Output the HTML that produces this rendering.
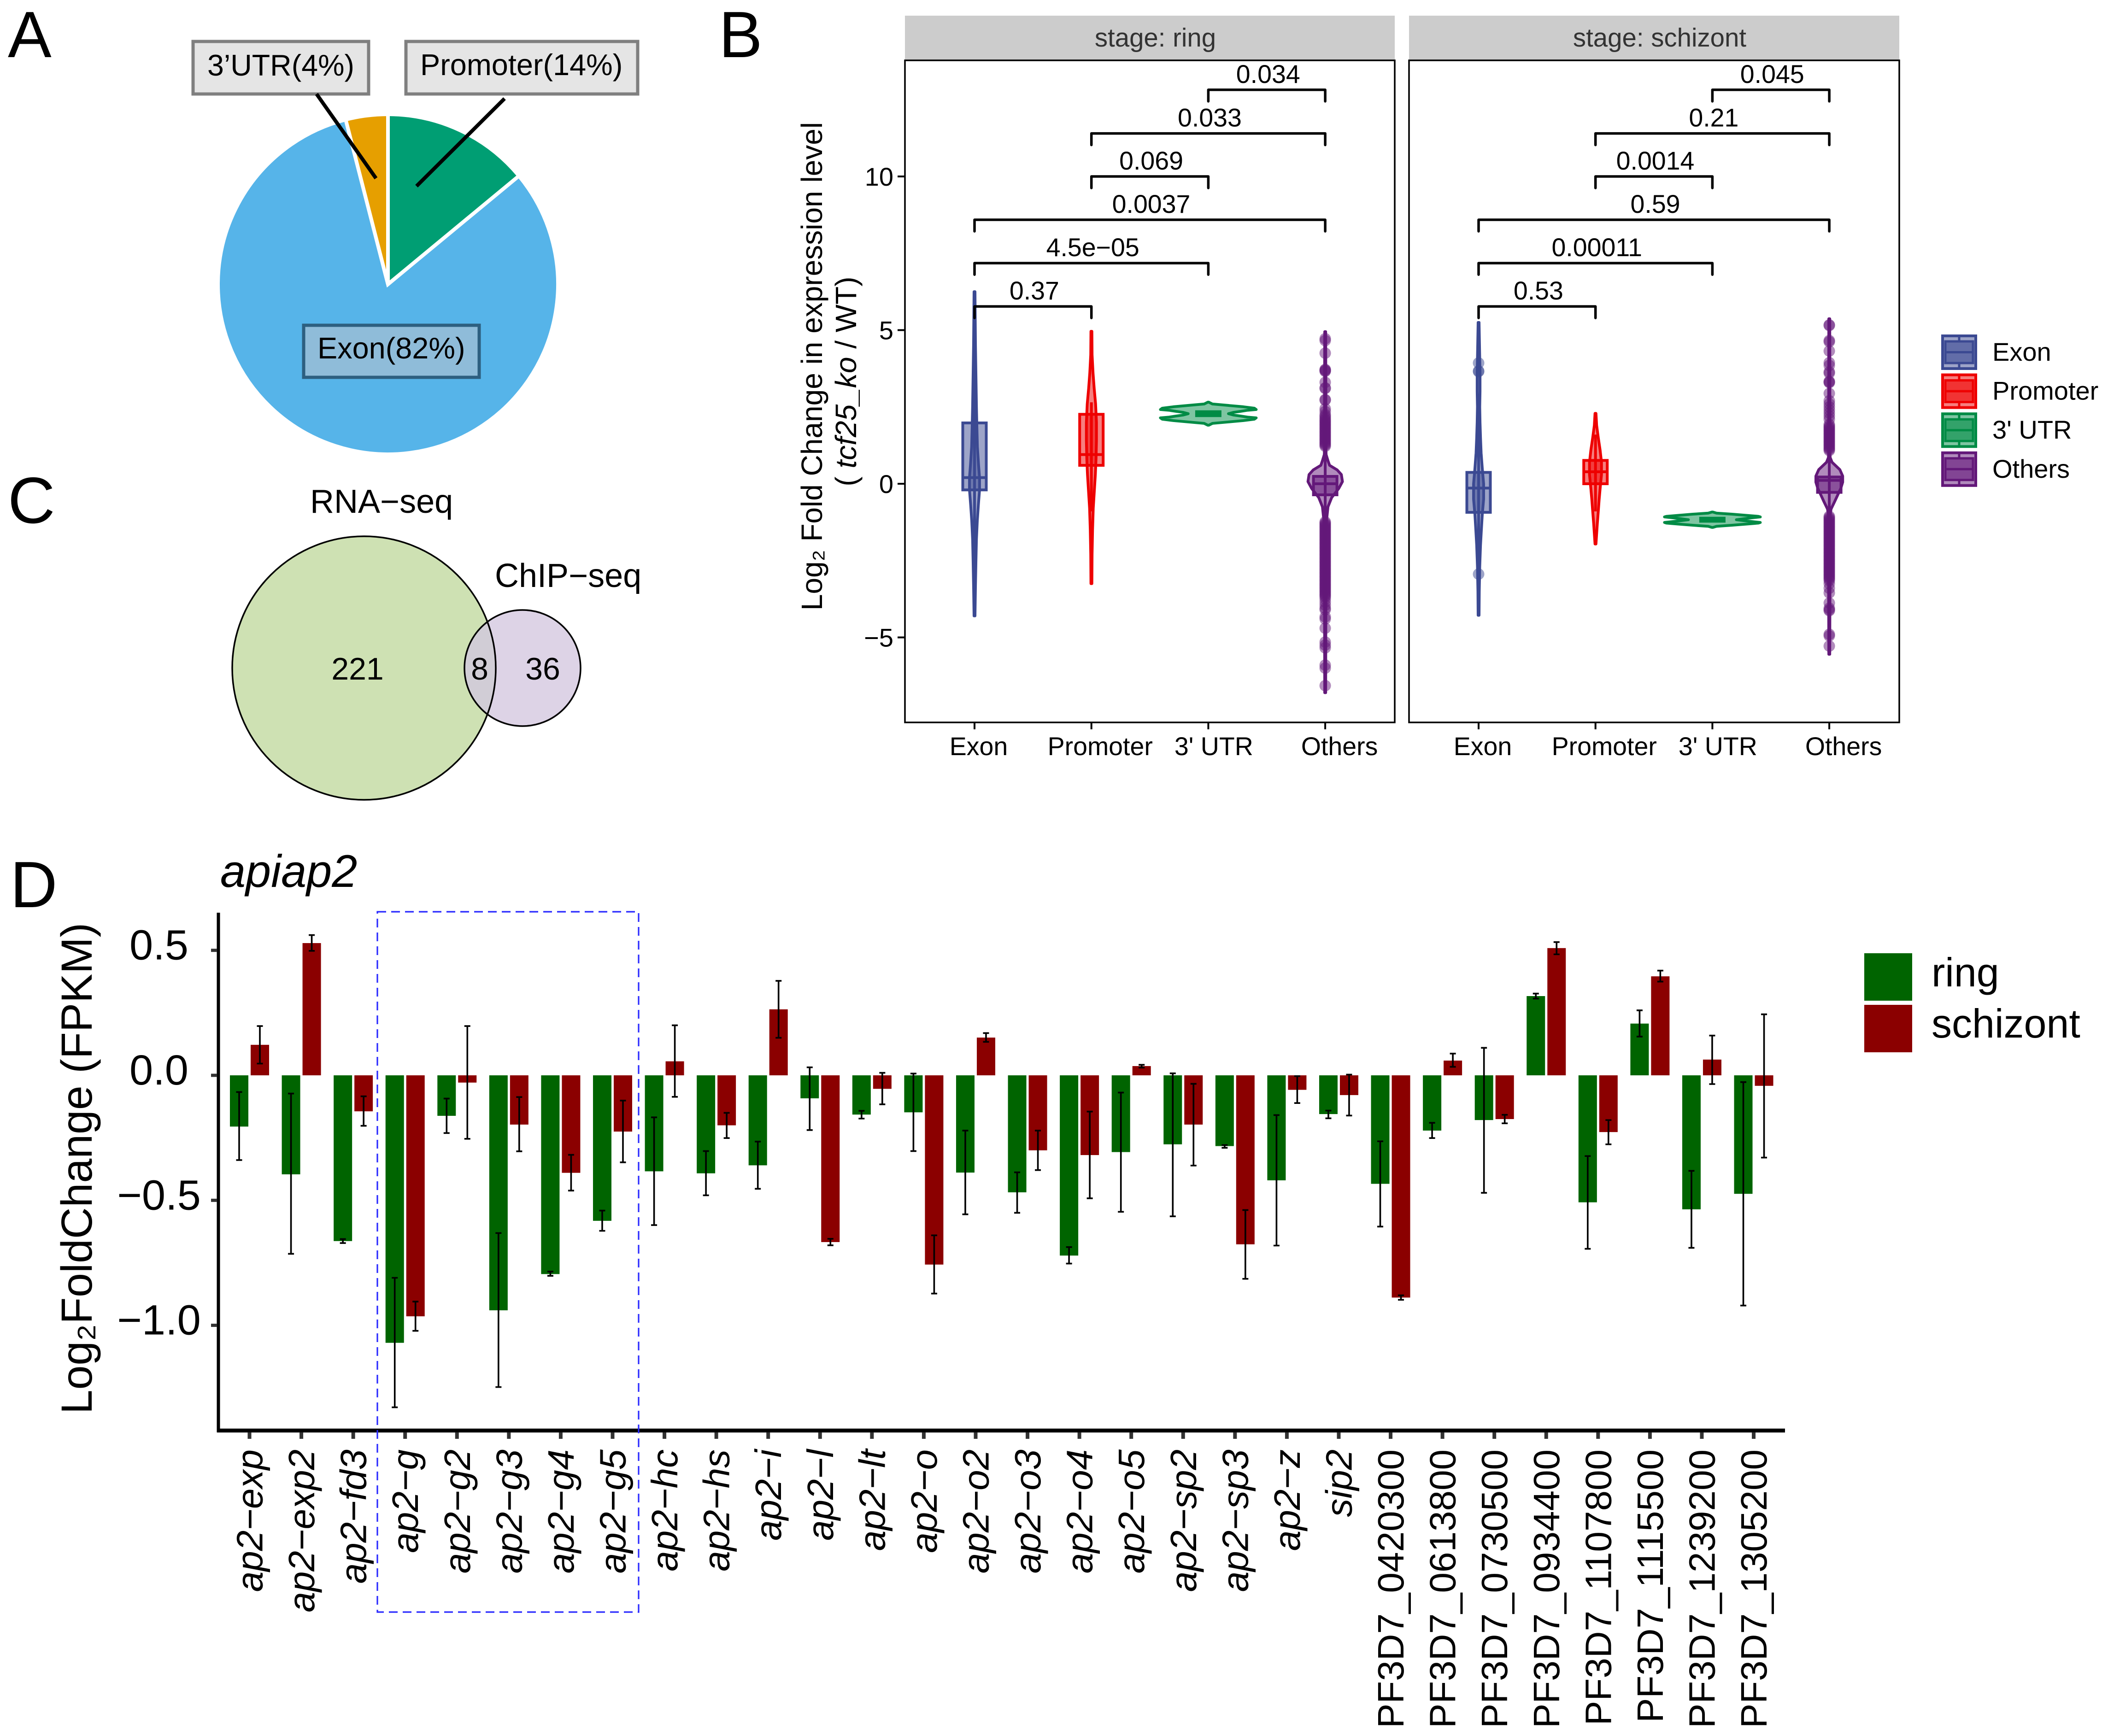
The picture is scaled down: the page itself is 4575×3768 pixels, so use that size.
<!DOCTYPE html>
<html lang="en">
<head>
<meta charset="utf-8">
<title>TCF25 knockout expression figure</title>
<style>
html,body{margin:0;padding:0;background:#fff;}
svg{display:block;font-family:"Liberation Sans","DejaVu Sans",sans-serif;}
</style>
</head>
<body>
<svg id="fig" xmlns="http://www.w3.org/2000/svg" width="4575" height="3768" viewBox="0 0 4575 3768">
  <rect x="0" y="0" width="4575" height="3768" fill="#fff"/>
  <text x="17" y="124" font-size="142">A</text>
  <text x="1560" y="124" font-size="142">B</text>
  <text x="17" y="1135" font-size="142">C</text>
  <text x="22" y="1969" font-size="142">D</text>

  <g id="pie"></g>
  <g>
    <rect x="419" y="90" width="381" height="114" fill="#e5e5e5" stroke="#7f7f7f" stroke-width="7"/>
    <text x="450" y="164" font-size="64.5">3’UTR(4%)</text>
    <rect x="881" y="90" width="503" height="114" fill="#e5e5e5" stroke="#7f7f7f" stroke-width="7"/>
    <text x="912" y="163" font-size="64.8">Promoter(14%)</text>
    <rect x="659" y="706" width="381" height="113" fill="#8fbcd9" stroke="#2d5f80" stroke-width="7"/>
    <text x="689" y="778" font-size="64.8">Exon(82%)</text>
    <line x1="687" y1="204" x2="816" y2="387" stroke="#000" stroke-width="8"/>
    <line x1="1095" y1="214" x2="904" y2="404" stroke="#000" stroke-width="8"/>
  </g>

  <g>
    <defs><clipPath id="rnaClip"><circle cx="790" cy="1450" r="286"/></clipPath></defs>
    <circle cx="790" cy="1450" r="286" fill="#cee1b3"/>
    <circle cx="1134" cy="1450" r="126" fill="#ddd3e6"/>
    <circle cx="1134" cy="1450" r="126" fill="#d1cdd6" clip-path="url(#rnaClip)"/>
    <circle cx="790" cy="1450" r="286" fill="none" stroke="#000" stroke-width="3.5"/>
    <circle cx="1134" cy="1450" r="126" fill="none" stroke="#000" stroke-width="3.5"/>
    <text x="673" y="1113" font-size="72">RNA−seq</text>
    <text x="1074" y="1274" font-size="72">ChIP−seq</text>
    <text x="776" y="1475" font-size="68" text-anchor="middle">221</text>
    <text x="1041" y="1475" font-size="68" text-anchor="middle">8</text>
    <text x="1178" y="1475" font-size="68" text-anchor="middle">36</text>
  </g>

  <g id="panelB">
    <text transform="translate(1784,795) rotate(-90)" text-anchor="middle" font-size="64">Log₂ Fold Change in expression level</text>
    <text transform="translate(1858,828) rotate(-90)" text-anchor="middle" font-size="64">( <tspan font-style="italic">tcf25_ko</tspan> / WT)</text>
  </g>

  <g id="panelD">
    <text x="478" y="1925" font-size="99" font-style="italic">apiap2</text>
    <text transform="translate(199,2536) rotate(-90)" text-anchor="middle" font-size="95">Log₂FoldChange (FPKM)</text>
  </g>
</svg>
<script>
/* ---------- Panel A data ---------- */
const pieLabels = ["Promoter", "Exon", "3' UTR"];
const pieShares = [14, 82, 4];
const pieColors = ["#009E73", "#56B4E9", "#E69F00"];

/* ---------- Panel B data ---------- */
const violinCategories = ["Exon", "Promoter", "3' UTR", "Others"];
const violinColors = ["#3B4992", "#EE0000", "#008B45", "#631879"];
const violinTicks = [10, 5, 0, -5];
const violinTickLabels = ["10", "5", "0", "−5"];
const stageNames = ["stage: ring", "stage: schizont"];

const ringExonGrid = [6.25,5.5,4.5,3.5,2.5,1.8,1.2,0.6,0.2,-0.2,-0.7,-1.2,-1.8,-2.5,-3.3,-4.3];
const ringExonDensity = [.01,.014,.02,.03,.04,.05,.06,.085,.105,.105,.08,.058,.04,.03,.02,.01];
const ringPromoterGrid = [4.96,4.2,3.6,3.1,2.6,2.0,1.4,0.8,0.3,-0.2,-0.8,-1.5,-2.3,-3.25];
const ringPromoterDensity = [.01,.014,.034,.058,.087,.105,.105,.096,.082,.062,.038,.024,.014,.01];
const ringUtrGrid = [2.655,2.595,2.55,2.505,2.46,2.415,2.392,2.355,2.325,2.28,2.235,2.205,2.168,2.145,2.10,2.055,2.01,1.965,1.905];
const ringUtrDensity = [.01,.087,.41,.73,.96,1,.82,.67,.53,.42,.53,.67,.82,1,.96,.73,.41,.087,.01];
const ringOthersGrid = [4.95,3,1.2,0.95,0.75,0.6,0.45,0.3,0.07,-0.15,-0.45,-0.75,-1.05,-1.3,-2,-4,-6.8];
const ringOthersDensity = [.01,.014,.014,.019,.058,.091,.25,.337,.36,.284,.135,.058,.038,.019,.014,.014,.01];

const schizontExonGrid = [5.25,4.4,3.6,3,2.5,2,1.5,1,0.5,0,-0.5,-1,-1.5,-2,-2.7,-3.5,-4.28];
const schizontExonDensity = [.01,.02,.03,.03,.024,.03,.04,.053,.077,.105,.105,.077,.058,.04,.024,.014,.01];
const schizontPromoterGrid = [2.29,1.9,1.5,1.1,0.7,0.3,-0.1,-0.5,-0.9,-1.3,-1.96];
const schizontPromoterDensity = [.01,.024,.058,.096,.125,.125,.1,.077,.058,.038,.01];
const schizontUtrGrid = [-0.92,-0.955,-0.99,-1.03,-1.06,-1.08,-1.11,-1.14,-1.17,-1.20,-1.23,-1.26,-1.28,-1.31,-1.35,-1.385,-1.42];
const schizontUtrDensity = [.01,.087,.41,.73,.96,1,.82,.65,.5,.65,.82,1,.96,.73,.41,.087,.01];
const schizontOthersGrid = [5.37,1.0,0.85,0.7,0.46,0.25,0.05,-0.15,-0.31,-0.57,-0.82,-1.0,-5.55];
const schizontOthersDensity = [.01,.014,.019,.058,.22,.28,.28,.24,.192,.115,.038,.019,.01];

/* box stats: lower whisker, q1, median, q3, upper whisker */
const ringExonBox = [-3.3,-0.2,0.2,1.98,5.2];
const ringPromoterBox = [-0.9,0.6,0.95,2.26,2.65];
const ringUtrBox = [2.215,2.215,2.28,2.345,2.345];
const ringOthersBox = [-1.2,-0.36,0,0.24,1.1];
const schizontExonBox = [-2.8,-0.93,-0.14,0.37,2.4];
const schizontPromoterBox = [-0.9,0,0.39,0.76,1.6];
const schizontUtrBox = [-1.22,-1.22,-1.17,-1.12,-1.12];
const schizontOthersBox = [-0.95,-0.28,0.11,0.22,0.9];

const ringOthersOutliers = [4.72,4.66,4.25,3.72,3.7,3.68,3.66,3.3,3.12,3.1,2.74,2.72,2.44,2.35,2.25,2.2,2.15,2.1,2.06,2.02,1.98,1.94,1.9,1.86,1.82,1.78,1.74,1.7,1.66,1.62,1.58,1.54,1.5,1.46,1.42,1.38,1.34,1.3,1.26,1.22,-1.24,-1.28,-1.32,-1.36,-1.4,-1.44,-1.48,-1.52,-1.56,-1.6,-1.64,-1.68,-1.72,-1.76,-1.8,-1.84,-1.88,-1.92,-1.96,-2,-2.04,-2.08,-2.12,-2.16,-2.2,-2.24,-2.28,-2.32,-2.36,-2.4,-2.44,-2.48,-2.52,-2.56,-2.6,-2.64,-2.68,-2.72,-2.76,-2.8,-2.84,-2.88,-2.92,-2.96,-3,-3.04,-3.08,-3.12,-3.16,-3.2,-3.24,-3.28,-3.32,-3.36,-3.4,-3.44,-3.48,-3.52,-3.56,-3.6,-3.64,-3.68,-3.75,-3.85,-3.95,-4.05,-4.1,-4.33,-4.4,-4.7,-5.15,-5.25,-5.34,-5.9,-6.0,-6.57];
const schizontExonOutliers = [3.93,3.67,3.65,-2.94];
const schizontOthersOutliers = [5.17,5.15,4.66,4.62,4.32,3.94,3.85,3.64,3.6,3.33,3.31,3.29,2.94,2.7,2.6,2.5,2.4,2.3,2.2,2.1,1.93,1.88,1.84,1.8,1.76,1.72,1.68,1.64,1.6,1.56,1.52,1.48,1.44,1.4,1.36,1.32,1.28,1.24,1.2,1.16,1.12,1.08,-1.06,-1.1,-1.14,-1.18,-1.22,-1.26,-1.3,-1.34,-1.38,-1.42,-1.46,-1.5,-1.54,-1.58,-1.62,-1.66,-1.7,-1.74,-1.78,-1.82,-1.86,-1.9,-1.94,-1.98,-2.02,-2.06,-2.1,-2.14,-2.18,-2.22,-2.26,-2.3,-2.34,-2.38,-2.42,-2.46,-2.5,-2.54,-2.58,-2.62,-2.66,-2.7,-2.74,-2.78,-2.82,-2.86,-2.9,-2.94,-2.98,-3.02,-3.06,-3.1,-3.15,-3.25,-3.4,-3.55,-3.88,-4.05,-4.1,-4.13,-4.9,-4.95,-5.28];

const comparisonStart = [0,0,0,1,1,2];
const comparisonEnd = [1,2,3,2,3,3];
const comparisonLevels = [5.77,7.18,8.59,10,11.4,12.82];
const ringPValues = ["0.37","4.5e−05","0.0037","0.069","0.033","0.034"];
const schizontPValues = ["0.53","0.00011","0.59","0.0014","0.21","0.045"];

/* ---------- Panel D data ---------- */
const geneNames = ["ap2−exp","ap2−exp2","ap2−fd3","ap2−g","ap2−g2","ap2−g3","ap2−g4","ap2−g5","ap2−hc","ap2−hs","ap2−i","ap2−l","ap2−lt","ap2−o","ap2−o2","ap2−o3","ap2−o4","ap2−o5","ap2−sp2","ap2−sp3","ap2−z","sip2","PF3D7_0420300","PF3D7_0613800","PF3D7_0730500","PF3D7_0934400","PF3D7_1107800","PF3D7_1115500","PF3D7_1239200","PF3D7_1305200"];
const ringValues = [-.205,-.396,-.663,-1.07,-.162,-.94,-.795,-.582,-.384,-.392,-.36,-.092,-.157,-.148,-.389,-.468,-.721,-.307,-.276,-.283,-.42,-.155,-.434,-.221,-.179,.317,-.508,.207,-.536,-.474];
const ringErrHigh = [-.067,-.073,-.655,-.81,-.093,-.631,-.785,-.541,-.168,-.303,-.265,.032,-.142,.007,-.221,-.388,-.687,-.069,.008,-.279,-.159,-.141,-.264,-.19,.11,.327,-.323,.26,-.382,-.027];
const ringErrLow = [-.339,-.714,-.671,-1.328,-.231,-1.247,-.802,-.622,-.599,-.48,-.454,-.219,-.173,-.303,-.556,-.55,-.753,-.546,-.564,-.29,-.681,-.172,-.605,-.251,-.47,.307,-.694,.155,-.69,-.921];
const schizontValues = [.122,.529,-.144,-.964,-.029,-.197,-.39,-.225,.056,-.2,.264,-.667,-.054,-.757,.151,-.3,-.319,.037,-.197,-.676,-.058,-.079,-.889,.059,-.175,.509,-.227,.396,.063,-.042];
const schizontErrHigh = [.197,.561,-.084,-.905,.197,-.087,-.318,-.101,.2,-.15,.378,-.654,.01,-.64,.169,-.221,-.145,.042,-.034,-.539,-.003,.003,-.88,.087,-.158,.533,-.179,.419,.159,.244];
const schizontErrLow = [.047,.498,-.202,-1.022,-.254,-.304,-.461,-.348,-.086,-.251,.15,-.68,-.116,-.873,.134,-.379,-.492,.031,-.361,-.814,-.111,-.161,-.898,.034,-.192,.484,-.276,.375,-.035,-.329];
const barTicks = [0.5, 0, -0.5, -1];
const barTickLabels = ["0.5", "0.0", "−0.5", "−1.0"];
const barSeriesNames = ["ring", "schizont"];
const barSeriesColors = ["#006400", "#8B0000"];

/* ---------- helpers ---------- */
const NS = "http://www.w3.org/2000/svg";
function make(tag, attrs, parent) {
  const el = document.createElementNS(NS, tag);
  for (const k in attrs) el.setAttribute(k, attrs[k]);
  parent.appendChild(el);
  return el;
}

/* ---------- Panel A ---------- */
(function drawPie() {
  const host = document.getElementById("pie");
  const cx = 842, cy = 617, r = 369;
  const total = pieShares.reduce((a, b) => a + b, 0);
  let start = 0;
  pieShares.forEach((share, i) => {
    const end = start + share / total * Math.PI * 2;
    const x1 = cx + r * Math.sin(start), y1 = cy - r * Math.cos(start);
    const x2 = cx + r * Math.sin(end), y2 = cy - r * Math.cos(end);
    const large = end - start > Math.PI ? 1 : 0;
    const wedge = make("path", {
      d: "M" + cx + " " + cy + "L" + x1 + " " + y1 + "A" + r + " " + r + " 0 " + large + " 1 " + x2 + " " + y2 + "Z",
      fill: pieColors[i], stroke: "#fff", "stroke-width": 8
    }, host);
    
    
    start = end;
  });
})();

/* ---------- Panel B ---------- */
function yViolin(v) { return 1050 - 66.7 * v; }
function xViolin(stage, cat) { return [2115, 3209][stage] + cat * 253.7; }
function widthViolin(d) { return d * 104; }

const violinGrids = [[ringExonGrid, ringPromoterGrid, ringUtrGrid, ringOthersGrid],
                     [schizontExonGrid, schizontPromoterGrid, schizontUtrGrid, schizontOthersGrid]];
const violinDensities = [[ringExonDensity, ringPromoterDensity, ringUtrDensity, ringOthersDensity],
                         [schizontExonDensity, schizontPromoterDensity, schizontUtrDensity, schizontOthersDensity]];
const violinBoxes = [[ringExonBox, ringPromoterBox, ringUtrBox, ringOthersBox],
                     [schizontExonBox, schizontPromoterBox, schizontUtrBox, schizontOthersBox]];
const violinOutliers = [[[], [], [], ringOthersOutliers],
                        [schizontExonOutliers, [], [], schizontOthersOutliers]];
const stagePValues = [ringPValues, schizontPValues];

(function drawViolins() {
  const host = document.getElementById("panelB");
  const panelLeft = [1964, 3058], panelRight = [3027, 4122];
  const labelShift = [9, 19, 12, 31];
  const stageKeys = ["ring", "schizont"];

  stageNames.forEach((title, s) => {
    const g = make("g", {}, host);
    
    

    const strip = make("rect", { x: panelLeft[s], y: 34, width: panelRight[s] - panelLeft[s], height: 97, fill: "#cccccc" }, g);
    
    

    const stripText = make("text", { x: (panelLeft[s] + panelRight[s]) / 2 + 12, y: 101, "font-size": 56.4, "text-anchor": "middle", fill: "#333333" }, g);
    
    
    stripText.textContent = title;

    const frame = make("rect", { x: panelLeft[s], y: 131, width: panelRight[s] - panelLeft[s], height: 1437, fill: "#fff", stroke: "#000", "stroke-width": 3.5 }, g);
    
    

    if (s === 0) {
      violinTicks.forEach((t, i) => {
        const tick = make("line", { x1: panelLeft[0] - 16, x2: panelLeft[0], y1: yViolin(t), y2: yViolin(t), stroke: "#000", "stroke-width": 4 }, g);
        
        
        const lab = make("text", { x: 1939, y: yViolin(t) + 20, "font-size": 56, "text-anchor": "end" }, g);
        
        
        lab.textContent = violinTickLabels[i];
      });
    }

    violinCategories.forEach((cat, c) => {
      const x = xViolin(s, c);
      const tick = make("line", { x1: x, x2: x, y1: 1568, y2: 1583, stroke: "#000", "stroke-width": 4 }, g);
      
      
      const lab = make("text", { x: x + labelShift[c], y: 1639, "font-size": 55.5, "text-anchor": "middle" }, g);
      
      
      lab.textContent = cat;

      const color = violinColors[c];
      violinOutliers[s][c].forEach(v => {
        const dot = make("circle", { cx: x, cy: yViolin(v), r: 12.5, fill: color, "fill-opacity": 0.5 }, g);
        
        
      });

      const grid = violinGrids[s][c], dens = violinDensities[s][c];
      const right = grid.map((v, i) => (x + widthViolin(dens[i])) + "," + yViolin(v));
      const left = grid.map((v, i) => (x - widthViolin(dens[i])) + "," + yViolin(v)).reverse();
      const violin = make("polygon", { points: right.concat(left).join(" "), fill: color, "fill-opacity": 0.5, stroke: color, "stroke-width": 6, "stroke-linejoin": "round" }, g);
      
      

      const b = violinBoxes[s][c];
      const whisker = make("line", { x1: x, x2: x, y1: yViolin(b[0]), y2: yViolin(b[4]), stroke: color, "stroke-width": 6 }, g);
      
      

      const box = make("rect", { x: x - 25.5, y: yViolin(b[3]), width: 51, height: yViolin(b[1]) - yViolin(b[3]), fill: color, "fill-opacity": 0.5, stroke: color, "stroke-width": 6 }, g);
      
      

      const median = make("line", { x1: x - 25.5, x2: x + 25.5, y1: yViolin(b[2]), y2: yViolin(b[2]), stroke: color, "stroke-width": 6 }, g);
      
      
    });

    comparisonLevels.forEach((level, k) => {
      const xa = xViolin(s, comparisonStart[k]), xb = xViolin(s, comparisonEnd[k]);
      const yb = yViolin(level);
      const bracket = make("path", { d: "M" + xa + " " + (yb + 25) + "V" + yb + "H" + xb + "V" + (yb + 25), fill: "none", stroke: "#000", "stroke-width": 5.5, "stroke-linecap": "round", "stroke-linejoin": "round" }, g);
      
      
      const p = make("text", { x: (xa + xb) / 2 + 3, y: yb - 15, "font-size": 55.5, "text-anchor": "middle" }, g);
      
      
      p.textContent = stagePValues[s][k];
    });
  });

  const legend = make("g", {}, host);
  
  
  violinCategories.forEach((cat, i) => {
    const top = 729 + i * 84.6;
    const color = violinColors[i];
    const key = make("rect", { x: 4216, y: top, width: 72, height: 71, fill: color, "fill-opacity": 0.5, stroke: color, "stroke-width": 6 }, legend);
    
    
    const inner = make("rect", { x: 4222, y: top + 12, width: 60, height: 47, fill: color, "fill-opacity": 0.6, stroke: color, "stroke-width": 5 }, legend);
    
    
    const mid = make("line", { x1: 4222, x2: 4282, y1: top + 35.5, y2: top + 35.5, stroke: color, "stroke-width": 5 }, legend);
    
    
    const vert = make("line", { x1: 4252, x2: 4252, y1: top, y2: top + 12, stroke: color, "stroke-width": 5 }, legend);
    
    
    const vert2 = make("line", { x1: 4252, x2: 4252, y1: top + 59, y2: top + 71, stroke: color, "stroke-width": 5 }, legend);
    
    
    const lab = make("text", { x: 4324, y: top + 54, "font-size": 56 }, legend);
    
    
    lab.textContent = cat;
  });
})();

/* ---------- Panel D ---------- */
function yBar(v) { return 2334 - 542.6 * v; }
function xBar(i) { return 541.5 + 112.57 * i; }

(function drawBars() {
  const host = document.getElementById("panelD");
  const dodge = 22.5, barW = 40;

  const series = [
    { vals: ringValues, hi: ringErrHigh, lo: ringErrLow, off: -dodge, color: barSeriesColors[0] },
    { vals: schizontValues, hi: schizontErrHigh, lo: schizontErrLow, off: dodge, color: barSeriesColors[1] }
  ];
  series.forEach((sr, si) => {
    geneNames.forEach((name, i) => {
      const cx = xBar(i) + sr.off;
      const y1 = yBar(Math.max(sr.vals[i], 0)), y2 = yBar(Math.min(sr.vals[i], 0));
      const bar = make("rect", { x: cx - barW / 2, y: y1, width: barW, height: y2 - y1, fill: sr.color }, host);
      
      
    });
  });
  series.forEach(sr => {
    geneNames.forEach((name, i) => {
      const cx = xBar(i) + sr.off;
      const a = yBar(sr.hi[i]), b = yBar(sr.lo[i]);
      const err = make("path", { d: "M" + (cx - 6.5) + " " + a + "H" + (cx + 6.5) + "M" + cx + " " + a + "V" + b + "M" + (cx - 6.5) + " " + b + "H" + (cx + 6.5), fill: "none", stroke: "#000", "stroke-width": 3.6 }, host);
      
      
    });
  });

  const yAxis = make("line", { x1: 474, x2: 474, y1: 1981, y2: 3109, stroke: "#000", "stroke-width": 7 }, host);
  
  
  const xAxis = make("line", { x1: 471, x2: 3874, y1: 3105, y2: 3105, stroke: "#000", "stroke-width": 8.5 }, host);
  
  

  barTicks.forEach((t, i) => {
    const tick = make("line", { x1: 458, x2: 471, y1: yBar(t), y2: yBar(t), stroke: "#333", "stroke-width": 7 }, host);
    
    
    const lab = make("text", { x: 345, y: yBar(t) + 20, "font-size": 92, "text-anchor": "middle" }, host);
    
    
    lab.textContent = barTickLabels[i];
  });

  geneNames.forEach((name, i) => {
    const tick = make("line", { x1: xBar(i), x2: xBar(i), y1: 3109, y2: 3123, stroke: "#333", "stroke-width": 8 }, host);
    
    
    const isLocus = name.indexOf("PF3D7") === 0;
    const bx = xBar(i) + 28;
    const lab = make("text", { transform: "translate(" + bx + ",3146) rotate(-90)", "font-size": 80, "text-anchor": "end", "font-style": isLocus ? "normal" : "italic" }, host);
    
    
    lab.textContent = name;
  });

  const highlight = make("rect", { x: 819, y: 1979, width: 567, height: 1520, fill: "none", stroke: "#2a2aff", "stroke-width": 3.2, "stroke-dasharray": "19 11" }, host);
  
  

  barSeriesNames.forEach((name, i) => {
    const key = make("rect", { x: 4046, y: 2069 + i * 112, width: 104, height: 103, fill: barSeriesColors[i] }, host);
    
    
    const lab = make("text", { x: 4192, y: 2141 + i * 111, "font-size": 88 }, host);
    
    
    lab.textContent = name;
  });
})();
</script>
</body>
</html>
